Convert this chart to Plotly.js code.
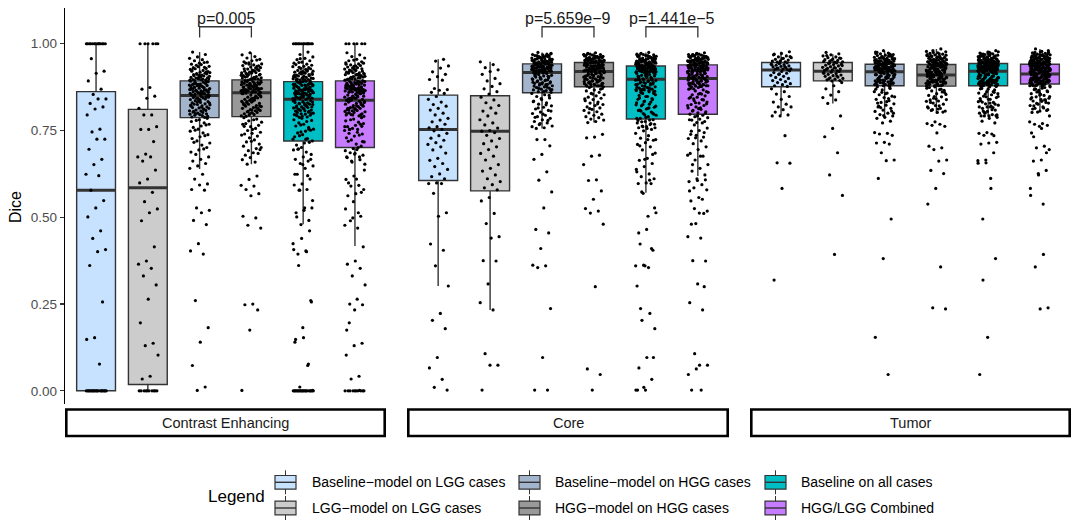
<!DOCTYPE html>
<html><head><meta charset="utf-8">
<script src="https://cdn.plot.ly/plotly-3.0.1.min.js"></script>
<style>html,body{margin:0;padding:0;background:#fff}#chart{width:1079px;height:526px}</style>
</head><body><div id="chart"></div>
<script>
// ---------------- data ----------------
const facets = ["Contrast Enhancing", "Core", "Tumor"];
const groups = ["Baseline\u2212model on LGG cases", "LGG\u2212model on LGG cases",
  "Baseline\u2212model on HGG cases", "HGG\u2212model on HGG cases",
  "Baseline on all cases", "HGG/LGG Combined"];
const colors = ["#C6E2FF", "#CCCCCC", "#A2B5CD", "#999999", "#00BFC4", "#C77CFF"];
const yTickVals = [0, 0.25, 0.5, 0.75, 1];
const yTickText = ["0.00", "0.25", "0.50", "0.75", "1.00"];

// box statistics (order = groups)
const ceQ1  = [0, .018, .787, .790, .720, .701];
const ceMed = [.578, .585, .851, .859, .840, .837];
const ceQ3  = [.862, .811, .893, .896, .891, .893];
const ceLo  = [0, 0, .639, .653, .480, .417];
const ceHi  = [1, 1, .976, .974, 1, 1];

const coreQ1  = [.606, .576, .859, .876, .783, .797];
const coreMed = [.753, .748, .917, .920, .898, .900];
const coreQ3  = [.852, .850, .942, .946, .936, .939];
const coreLo  = [.302, .233, .756, .773, .571, .619];
const coreHi  = [.955, .948, .975, .974, .975, .974];

const tumQ1  = [.876, .893, .879, .878, .879, .884];
const tumMed = [.924, .921, .919, .910, .921, .913];
const tumQ3  = [.946, .946, .941, .940, .943, .941];
const tumLo  = [.795, .828, .785, .799, .790, .804];
const tumHi  = [.977, .970, .980, .985, .980, .985];

// per-case Dice values (estimated from the jittered points)
const ceBaseLgg = [1,1,1,1,1,1,1,1,1,1,1,1,1,1,.957,.921,.915,.893,.869,.854,.841,.841,.828,.818,.812,.795,.754,.746,.725,.725,.696,.667,.652,.624,.62,.578,.548,.527,.501,.461,.439,.407,.401,.361,.256,.153,.148,.077,0,0,0,0,0,0,0,0,0,0,0,0,0,0,0,0,0,0,0,0];
const ceLggLgg = [1,1,1,1,1,1,.874,.869,.849,.843,.814,.795,.795,.761,.753,.753,.718,.682,.674,.674,.662,.636,.61,.599,.572,.545,.524,.513,.49,.415,.374,.365,.353,.331,.305,.264,.196,.137,.13,.103,.042,.034,0,0,0,0,0,0,0,0,0,0];
const ceBaseHgg = [.976,.969,.962,.958,.954,.951,.947,.944,.941,.946,.938,.935,.94,.931,.929,.934,.926,.923,.928,.92,.918,.924,.915,.912,.917,.91,.908,.913,.905,.903,.907,.901,.899,.904,.897,.896,.9,.895,.898,.894,.902,.909,.921,.932,.914,.906,.896,.911,.919,.899,
.892,.889,.887,.891,.884,.882,.886,.879,.881,.877,.875,.88,.872,.869,.874,.866,.868,.864,.862,.867,.859,.857,.861,.855,.853,.858,.852,.856,.863,.871,.878,.885,.89,.883,.876,.873,.865,.86,.854,.87,.888,.881,.868,.857,.874,.863,.879,.853,.866,.884,
.85,.848,.845,.847,.842,.839,.844,.836,.833,.838,.83,.827,.832,.824,.821,.826,.818,.815,.82,.812,.809,.814,.806,.803,.808,.8,.797,.802,.794,.791,.796,.789,.788,.843,.829,.817,.805,.798,.835,.823,.811,.799,.846,.831,.816,.841,.825,.807,.793,.849,
.785,.781,.776,.772,.779,.768,.763,.759,.766,.754,.748,.743,.751,.738,.732,.727,.735,.72,.714,.708,.716,.701,.694,.688,.697,.681,.674,.667,.662,.655,.648,.641,
.624,.61,.596,.593,.58,.578,.527,.52,.513,.491,.479,.424,.403,.394,.26,.182,.14,.073,.011,.001];
const ceHggHgg = [.974,.968,.963,.959,.955,.951,.948,.953,.945,.942,.939,.944,.936,.933,.937,.93,.927,.931,.924,.921,.926,.918,.916,.922,.913,.91,.915,.907,.905,.911,.902,.9,.904,.898,.897,.901,.899,.906,.912,.919,.928,.935,.941,.909,.903,.914,.923,.898,.908,.917,
.895,.893,.891,.894,.888,.886,.89,.883,.881,.885,.878,.876,.88,.873,.871,.875,.868,.866,.87,.863,.861,.865,.86,.862,.867,.872,.877,.882,.887,.892,.884,.879,.874,.869,.864,.889,.876,.861,.871,.883,.866,.878,.891,.87,.86,.886,.873,.88,.864,.868,
.858,.855,.852,.856,.849,.846,.85,.843,.84,.844,.837,.834,.838,.831,.828,.832,.825,.822,.826,.819,.816,.82,.813,.81,.814,.807,.804,.808,.801,.798,.802,.795,.792,.796,.791,.853,.841,.829,.817,.805,.847,.835,.823,.811,.799,.857,.845,.833,.821,.809,
.787,.783,.778,.774,.781,.77,.765,.761,.768,.756,.75,.745,.753,.74,.734,.729,.737,.723,.717,.711,.719,.705,.698,.692,.701,.686,.679,.684,.672,.666,.659,.653,.695,.742,.762,
.619,.609,.592,.59,.58,.568,.562,.503,.498,.477,.469,.25,.248,.233,.175,.001];

const coreBaseLgg = [.955,.95,.936,.93,.919,.912,.905,.897,.895,.871,.868,.866,.86,.857,
.848,.84,.832,.825,.82,.814,.809,.8,.795,.785,.78,.775,.768,.761,.758,.753,.749,.742,.735,.728,.722,.715,.71,.703,.694,.685,.67,.664,.655,.646,.638,.625,.617,.611,
.599,.597,.597,.569,.513,.503,.423,.405,.36,.302,.223,.203,.179,.096,.066,.033,.01,.002];
const coreLggLgg = [.948,.94,.931,.925,.92,.912,.9,.893,.885,.877,.87,.862,.855,
.846,.838,.83,.822,.815,.806,.8,.792,.781,.772,.766,.757,.75,.748,.744,.736,.727,.72,.712,.703,.695,.684,.676,.665,.652,.641,.633,.622,.611,.603,.594,.585,.579,
.557,.547,.511,.482,.444,.44,.375,.374,.308,.254,.233,.107,.074,.074,.002];
const coreBaseHgg = [.975,.971,.968,.966,.963,.961,.959,.957,.956,.954,.953,.951,.95,.948,.947,.946,.945,.944,.943,.969,.964,.958,.952,.949,.945,.967,.96,.955,.949,.944,.965,.958,.951,.946,.943,.972,.962,.955,.948,.96,.952,.944,.966,.957,.95,.945,.97,.963,.953,.947,
.942,.94,.938,.936,.941,.934,.932,.937,.93,.928,.933,.926,.924,.929,.922,.92,.925,.919,.918,.921,.935,.939,.927,.923,.931,.919,.94,.936,.928,.92,.933,.925,.938,.93,.922,.941,.934,.926,.918,.937,.929,.921,.939,.931,.923,.935,.927,.919,.932,.924,
.916,.914,.911,.909,.907,.904,.902,.9,.897,.895,.893,.89,.888,.886,.883,.881,.879,.876,.874,.872,.869,.867,.865,.862,.86,.915,.912,.906,.903,.899,.894,.891,.887,.884,.878,.875,.871,.868,.863,.913,.905,.898,.889,.882,.873,.866,.861,.908,.896,.885,
.857,.853,.848,.844,.839,.835,.83,.826,.821,.817,.812,.808,.803,.799,.794,.79,.785,.781,.776,.772,.767,.763,.758,.756,.851,.842,.833,.824,.815,.806,.797,.788,.779,.77,.761,
.724,.724,.706,.681,.667,.631,.607,.573,.527,.465,.455,.41,.362,.36,.355,.237,.096,.002,.002];
const coreHggHgg = [.974,.971,.969,.967,.965,.963,.961,.96,.958,.957,.955,.954,.952,.951,.95,.949,.948,.947,.946,.97,.964,.959,.953,.949,.947,.968,.962,.956,.951,.948,.966,.96,.955,.95,.946,.972,.963,.957,.952,.961,.953,.947,.965,.958,.951,.948,.969,.962,.954,.949,
.945,.943,.941,.944,.939,.937,.94,.935,.933,.938,.931,.929,.934,.927,.925,.93,.923,.921,.926,.92,.922,.936,.942,.928,.924,.932,.921,.943,.937,.929,.922,.935,.926,.94,.932,.924,.944,.936,.928,.921,.938,.93,.923,.941,.933,.925,.939,.927,.934,.92,
.919,.917,.915,.913,.911,.909,.907,.905,.903,.901,.899,.897,.895,.893,.891,.889,.887,.885,.883,.881,.879,.877,.918,.914,.91,.906,.902,.898,.894,.89,.886,.882,.878,.916,.912,.904,.896,.888,.88,.908,.9,.892,.884,.876,.917,.909,.901,.893,.885,.879,
.874,.871,.867,.864,.86,.857,.853,.85,.846,.843,.839,.836,.832,.829,.825,.822,.818,.815,.811,.808,.804,.801,.797,.794,.79,.787,.783,.78,.776,.773,.869,.855,.841,.827,.813,
.739,.731,.729,.679,.676,.652,.608,.606,.576,.552,.525,.518,.512,.48,.3,.063,.047,.002];

const tumBaseLgg = [.977,.972,.968,.965,.962,.96,.958,.955,.953,.951,.95,.948,.947,.963,.957,.97,
.945,.943,.941,.94,.938,.936,.935,.933,.931,.93,.928,.927,.926,.925,.944,.939,.934,.929,
.922,.92,.917,.915,.912,.909,.906,.903,.9,.897,.894,.891,.888,.885,.882,.879,.877,.913,
.87,.862,.855,.848,.84,.832,.826,.818,.818,.81,.803,.795,.792,.792,.735,.657,.656,.583,.319];
const tumLggLgg = [.975,.971,.968,.965,.962,.96,.958,.956,.954,.952,.95,.948,.947,.966,.959,.953,.949,
.945,.943,.941,.94,.938,.936,.934,.932,.93,.929,.927,.925,.923,.922,.944,.937,.931,.926,
.92,.918,.916,.914,.912,.91,.908,.906,.904,.902,.9,.898,.896,.894,.893,.915,.907,.899,
.888,.879,.87,.862,.852,.845,.838,.828,.792,.756,.732,.686,.622,.563,.393];
const tumBaseHgg = [.98,.976,.973,.971,.969,.967,.966,.964,.962,.961,.959,.958,.956,.955,.954,.952,.951,.95,.949,.948,.947,.946,.945,.944,.943,.942,.941,.975,.97,.963,.957,.953,.949,.946,.943,.972,.965,.959,.954,.948,.944,.968,.96,.952,.947,.942,.962,.956,.95,.944,
.94,.939,.937,.936,.934,.933,.932,.931,.929,.928,.927,.926,.924,.923,.922,.921,.92,.919,.938,.935,.93,.926,.922,.94,.936,.933,.929,.925,.921,.939,.934,.93,.927,.924,.92,.937,.932,.928,.923,.919,.935,.931,.926,.922,.938,.929,.924,.936,.931,.927,
.918,.916,.914,.911,.909,.907,.904,.902,.9,.897,.895,.893,.89,.888,.886,.883,.881,.879,.917,.912,.906,.901,.896,.891,.885,.88,.915,.908,.903,.898,.892,.887,.882,.913,.905,.899,.894,.889,.884,.916,.91,.9,.893,.886,.879,.911,.902,.895,.887,.882,
.876,.871,.867,.862,.858,.853,.849,.845,.84,.836,.831,.827,.823,.818,.814,.809,.805,.8,.796,.792,.788,.785,.873,.86,.847,.833,.82,.806,.793,.869,.842,.816,.8,.856,.829,
.777,.772,.744,.742,.74,.736,.716,.714,.711,.686,.665,.663,.612,.495,.381,.154,.047];
const tumHggHgg = [.985,.98,.977,.974,.972,.97,.968,.966,.964,.963,.961,.96,.958,.957,.955,.954,.953,.951,.95,.949,.948,.947,.946,.945,.944,.943,.942,.941,.978,.971,.965,.959,.952,.948,.944,.975,.967,.962,.956,.95,.945,.969,.96,.953,.946,.942,.963,.955,.949,.943,
.94,.938,.937,.935,.934,.932,.931,.929,.927,.926,.924,.923,.921,.92,.918,.917,.915,.914,.912,.911,.939,.936,.93,.925,.919,.913,.938,.933,.928,.922,.916,.936,.929,.924,.918,.912,.934,.927,.921,.915,.937,.931,.925,.917,.933,.926,.92,.914,.93,.922,
.91,.908,.906,.905,.903,.901,.899,.897,.895,.893,.891,.889,.887,.885,.883,.881,.879,.878,.909,.904,.898,.892,.886,.88,.907,.902,.896,.89,.884,.879,.906,.9,.894,.888,.882,.908,.901,.893,.886,.879,.904,.897,.889,.883,.905,.896,.887,.881,.9,.891,
.876,.872,.868,.864,.86,.856,.851,.847,.843,.839,.835,.831,.826,.822,.818,.814,.81,.806,.802,.874,.861,.848,.834,.821,.808,.866,.841,.815,.869,.829,.854,.812,.838,
.803,.775,.77,.768,.765,.762,.743,.705,.7,.695,.665,.662,.635,.626,.583,.538,.357,.239,.236];

// pairwise tests shown as brackets: facet index, the two group indices, label
const tests = [
  {facet: 0, a: 2, b: 3, label: "p=0.005"},
  {facet: 1, a: 2, b: 3, label: "p=5.659e\u22129"},
  {facet: 1, a: 4, b: 5, label: "p=1.441e\u22125"}
];

// ---------------- assembly ----------------
const stats = [
  {q1: ceQ1, med: ceMed, q3: ceQ3, lo: ceLo, hi: ceHi},
  {q1: coreQ1, med: coreMed, q3: coreQ3, lo: coreLo, hi: coreHi},
  {q1: tumQ1, med: tumMed, q3: tumQ3, lo: tumLo, hi: tumHi}
];
const points = [
  [ceBaseLgg, ceLggLgg, ceBaseHgg, ceHggHgg, ceBaseLgg.concat(ceBaseHgg), ceLggLgg.concat(ceHggHgg)],
  [coreBaseLgg, coreLggLgg, coreBaseHgg, coreHggHgg, coreBaseLgg.concat(coreBaseHgg), coreLggLgg.concat(coreHggHgg)],
  [tumBaseLgg, tumLggLgg, tumBaseHgg, tumHggHgg, tumBaseLgg.concat(tumBaseHgg), tumLggLgg.concat(tumHggHgg)]
];

const W = 1079, H = 526;
const PX = v => v / W, PY = v => 1 - v / H;
const xDom = [[65, 386], [407, 729], [750, 1071]];
const BOXW = 0.75, JIT = 0.2;
const sfx = f => (f === 0 ? "" : String(f + 1));

const traces = [];
const medTraces = [];
const ptTraces = [];
facets.forEach((fn, f) => {
  const s = stats[f];
  const mx = [], my = [];
  groups.forEach((gn, g) => {
    const pos = g + 1;
    traces.push({
      type: "box", orientation: "v", x: [pos],
      q1: [s.q1[g]], median: [s.med[g]], q3: [s.q3[g]],
      lowerfence: [s.lo[g]], upperfence: [s.hi[g]],
      width: BOXW, whiskerwidth: 0, boxpoints: false,
      fillcolor: colors[g], line: {color: "#333333", width: 1.4},
      xaxis: "x" + sfx(f), yaxis: "y" + sfx(f), showlegend: false, hoverinfo: "skip"
    });
    mx.push(pos - BOXW / 2, pos + BOXW / 2, null);
    my.push(s.med[g], s.med[g], null);
    const vals = points[f][g];
    const xs = vals.map((v, i) => pos + ((((i + 1) * 0.6180339887 + g * 0.2718 + f * 0.1414) % 1) - 0.5) * 2 * JIT);
    ptTraces.push({
      type: "scatter", mode: "markers", x: xs, y: vals,
      marker: {color: "#000000", size: 3.2, line: {width: 0}},
      xaxis: "x" + sfx(f), yaxis: "y" + sfx(f), showlegend: false, hoverinfo: "skip"
    });
  });
  medTraces.push({
    type: "scatter", mode: "lines", x: mx, y: my,
    line: {color: "#333333", width: 3},
    xaxis: "x" + sfx(f), yaxis: "y" + sfx(f), showlegend: false, hoverinfo: "skip"
  });
});

const layout = {
  width: W, height: H, margin: {l: 0, r: 0, t: 0, b: 0},
  paper_bgcolor: "#ffffff", plot_bgcolor: "rgba(0,0,0,0)", showlegend: false,
  font: {family: "Liberation Sans, Arial, Helvetica, sans-serif", color: "#000000"},
  shapes: [], annotations: []
};
facets.forEach((fn, f) => {
  const [a, b] = xDom[f];
  layout["xaxis" + sfx(f)] = {
    domain: [PX(a), PX(b)], range: [0.4, 6.6], anchor: "y" + sfx(f),
    showticklabels: false, showgrid: false, zeroline: false, showline: false, ticks: "", fixedrange: true
  };
  const ya = {
    domain: [PY(404), PY(8)], range: [-0.038, 1.103], anchor: "x" + sfx(f),
    showgrid: false, zeroline: false, fixedrange: true
  };
  if (f === 0) {
    Object.assign(ya, {
      showline: true, linecolor: "#000000", linewidth: 1.2,
      ticks: "outside", ticklen: 4, tickwidth: 1.1, tickcolor: "#333333",
      tickmode: "array", tickvals: yTickVals, ticktext: yTickText,
      tickfont: {size: 13.5, color: "#4d4d4d"}
    });
  } else {
    Object.assign(ya, {showline: false, showticklabels: false, ticks: ""});
  }
  layout["yaxis" + sfx(f)] = ya;
  // strip
  layout.shapes.push({type: "rect", xref: "paper", yref: "paper",
    x0: PX(a + 1.3), x1: PX(b - 1.3), y0: PY(436), y1: PY(409.5),
    line: {color: "#000000", width: 2.6}, fillcolor: "#ffffff", layer: "above"});
  layout.annotations.push({xref: "paper", yref: "paper", x: PX((a + b) / 2), y: PY(423),
    xanchor: "center", yanchor: "middle", showarrow: false, text: fn, font: {size: 14.5, color: "#1a1a1a"}});
});

// significance brackets
tests.forEach(t => {
  const xa = t.a + 1, xb = t.b + 1;
  layout.shapes.push({type: "path", xref: "x" + sfx(t.facet), yref: "y" + sfx(t.facet),
    path: `M${xa},1.018 L${xa},1.049 L${xb},1.049 L${xb},1.018`,
    line: {color: "#333333", width: 1.3}});
  layout.annotations.push({xref: "x" + sfx(t.facet), yref: "y" + sfx(t.facet),
    x: (xa + xb) / 2, y: 1.074, xanchor: "center", yanchor: "middle", showarrow: false,
    text: t.label, font: {size: 16, color: "#1a1a1a"}});
});

// y title
layout.annotations.push({xref: "paper", yref: "paper", x: PX(15), y: PY(207), textangle: -90,
  xanchor: "center", yanchor: "middle", showarrow: false, text: "Dice", font: {size: 16, color: "#000"}});

// legend (drawn as key glyphs + text)
layout.annotations.push({xref: "paper", yref: "paper", x: PX(206), y: PY(496.7),
  xanchor: "left", yanchor: "middle", showarrow: false, text: "Legend", font: {size: 17, color: "#000"}});
const legRows = [482.3, 508];
const legKeyX = [275, 519, 765];
const legTextX = [309.5, 552.5, 798.5];
const legOrder = [[0, 2, 4], [1, 3, 5]];
legOrder.forEach((row, r) => {
  row.forEach((g, c) => {
    const cy = legRows[r], x0 = legKeyX[c], x1 = x0 + 21, cx = x0 + 10.5;
    layout.shapes.push({type: "line", xref: "paper", yref: "paper",
      x0: PX(cx), x1: PX(cx), y0: PY(cy + 12), y1: PY(cy - 12), line: {color: "#333333", width: 1}});
    layout.shapes.push({type: "rect", xref: "paper", yref: "paper",
      x0: PX(x0), x1: PX(x1), y0: PY(cy + 6.8), y1: PY(cy - 6.8),
      fillcolor: colors[g], line: {color: "#333333", width: 1.2}});
    layout.shapes.push({type: "line", xref: "paper", yref: "paper",
      x0: PX(x0), x1: PX(x1), y0: PY(cy), y1: PY(cy), line: {color: "#333333", width: 1.4}});
    layout.annotations.push({xref: "paper", yref: "paper", x: PX(legTextX[c]), y: PY(cy),
      xanchor: "left", yanchor: "middle", showarrow: false, text: groups[g], font: {size: 14, color: "#000"}});
  });
});

Plotly.newPlot("chart", traces.concat(medTraces, ptTraces), layout, {displayModeBar: false, staticPlot: true});
</script>
</body></html>
